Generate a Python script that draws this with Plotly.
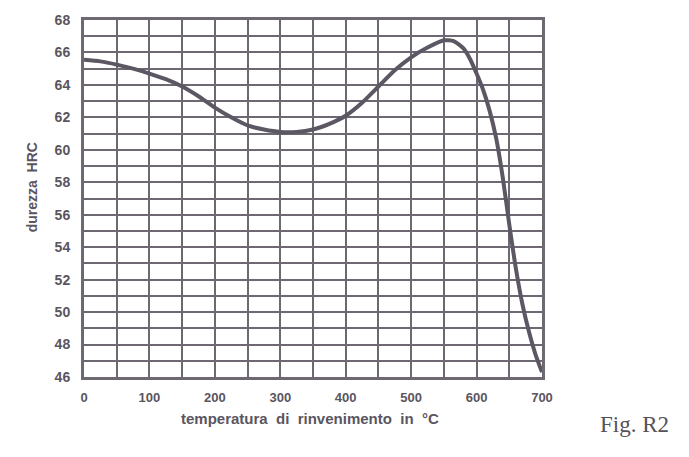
import plotly.graph_objects as go

temperature = [0, 25, 50, 75, 100, 125, 150, 175, 200, 225, 250, 275, 300, 325, 350,
               375, 400, 425, 450, 475, 500, 525, 550, 565, 580, 590, 600, 610, 620, 630,
               640, 650, 660, 670, 680, 690, 700]
hardness = [65.55, 65.45, 65.25, 65.0, 64.7, 64.35, 63.9, 63.3, 62.6, 62.0, 61.5, 61.25,
            61.1, 61.1, 61.25, 61.6, 62.1, 62.9, 63.9, 64.9, 65.7, 66.3, 66.75, 66.7,
            66.25, 65.6, 64.7, 63.7, 62.4, 60.7, 58.3, 55.4, 52.7, 50.5, 48.8, 47.4, 46.3]

x_ticks = [0, 100, 200, 300, 400, 500, 600, 700]
y_ticks = [46, 48, 50, 52, 54, 56, 58, 60, 62, 64, 66, 68]

grid_col = "#6e6873"
curve_col = "#5c5763"
text_col = "#5a5560"
font_fam = "Liberation Sans, Arial, sans-serif"

fig = go.Figure()
fig.add_trace(go.Scatter(x=temperature, y=hardness, mode="lines",
                         line=dict(color=curve_col, width=4, shape="spline", smoothing=0.6),
                         hoverinfo="skip", showlegend=False))

fig.update_layout(
    width=689, height=457,
    margin=dict(l=84, r=147, t=14, b=80),
    paper_bgcolor="white", plot_bgcolor="white",
    font=dict(family=font_fam, color=text_col),
    xaxis=dict(range=[0, 700], tickvals=x_ticks, ticktext=["<b>%d</b>" % v for v in x_ticks],
               showgrid=True, gridcolor=grid_col, gridwidth=1.5,
               minor=dict(dtick=50, tick0=0, showgrid=True, gridcolor=grid_col, gridwidth=1.5),
               showline=True, linecolor=grid_col, linewidth=3, mirror=True,
               zeroline=False, ticks="", ticklen=0, ticklabelstandoff=6,
               tickfont=dict(size=13, color=text_col, family=font_fam)),
    yaxis=dict(range=[46, 68], tickvals=y_ticks, ticktext=["<b>%d</b>" % v for v in y_ticks],
               showgrid=True, gridcolor=grid_col, gridwidth=1.5,
               minor=dict(dtick=1, tick0=46, showgrid=True, gridcolor=grid_col, gridwidth=1.5),
               showline=True, linecolor=grid_col, linewidth=3, mirror=True,
               zeroline=False, ticks="", ticklen=0, ticklabelstandoff=8,
               tickfont=dict(size=14, color=text_col, family=font_fam)),
    annotations=[
        dict(text="<b>durezza  HRC</b>", xref="paper", yref="paper", x=-0.113, y=0.532,
             xanchor="center", yanchor="middle",
             textangle=-90, showarrow=False, font=dict(size=14, color=text_col)),
        dict(text="<b>temperatura  di  rinvenimento  in  °C</b>", xref="paper", yref="paper",
             x=0.4935, y=-0.116, xanchor="center", yanchor="middle",
             showarrow=False, font=dict(size=15, color=text_col)),
        dict(text="Fig. R2", xref="paper", yref="paper", x=1.203, y=-0.132,
             xanchor="center", yanchor="middle", showarrow=False,
             font=dict(size=23, color="#55525a", family="Liberation Serif, Times New Roman, serif")),
    ],
)

fig.write_html("out.html")
